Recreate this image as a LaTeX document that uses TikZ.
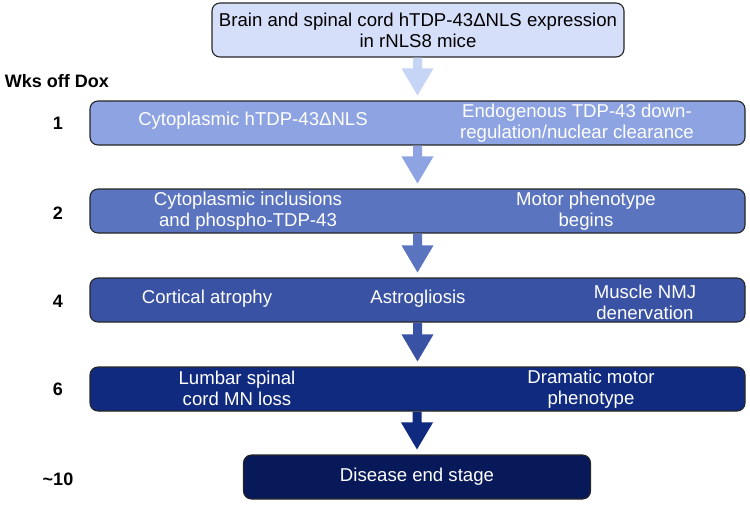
\documentclass[tikz,border=0pt]{standalone}
\usepackage{fontspec}
\setmainfont{Liberation Sans}
\usetikzlibrary{calc}
\definecolor{ctop}{RGB}{214,223,250}
\definecolor{carrA}{RGB}{198,212,246}
\definecolor{cone}{RGB}{141,163,226}
\definecolor{ctwo}{RGB}{90,116,192}
\definecolor{cthree}{RGB}{57,82,163}
\definecolor{cfour}{RGB}{16,42,128}
\definecolor{cfive}{RGB}{8,25,90}
\newcommand\flowarr[3]{%
  \fill[#3] ($(#1)+(-4.5,0)$) -- ($(#2)+(-4.5,32)$) -- ($(#2)+(-16,32)$) --
    ($(#2)+(0,5)$) -- ($(#2)+(16,32)$) -- ($(#2)+(4.5,32)$) -- ($(#1)+(4.5,0)$) -- cycle;}
\begin{document}
\begin{tikzpicture}[x=1pt,y=1pt,
  every node/.style={font=\fontsize{18.6}{21}\selectfont, inner sep=0pt},
  stagebox/.style={draw=black!85, line width=1.1pt, rounded corners=8pt,
    minimum height=44pt, minimum width=655pt},
  wtext/.style={text=white, align=center},
  weeklbl/.style={font=\fontsize{18}{21}\selectfont\bfseries}]
\useasboundingbox (0,0) rectangle (750,-504);
% boxes
\node[draw=black!85, line width=1.1pt, rounded corners=8pt, fill=ctop,
      minimum width=412pt, minimum height=54pt, align=center] (top) at (418,-30)
      {Brain and spinal cord hTDP-43ΔNLS expression\\in rNLS8 mice};
\node[stagebox, fill=cone] (b1) at (417.5,-123) {};
\node[stagebox, fill=ctwo] (b2) at (417.5,-211) {};
\node[stagebox, fill=cthree] (b3) at (417.5,-300) {};
\node[stagebox, fill=cfour] (b4) at (417.5,-389) {};
\node[stagebox, fill=cfive, minimum width=347pt] (b5) at (417,-477) {};
% texts
\node[wtext] (t11) at (253,-121) {Cytoplasmic hTDP-43ΔNLS};
\node[wtext] (t12) at (577,-123) {Endogenous TDP-43 down-\\regulation/nuclear clearance};
\node[wtext] (t21) at (248,-211) {Cytoplasmic inclusions\\and phospho-TDP-43};
\node[wtext] (t22) at (586,-211) {Motor phenotype\\begins};
\node[wtext] (t31) at (207,-299) {Cortical atrophy};
\node[wtext] (t32) at (418,-299) {Astrogliosis};
\node[wtext] (t33) at (645,-302) {Muscle NMJ\\denervation};
\node[wtext] (t41) at (237,-388) {Lumbar spinal\\cord MN loss};
\node[wtext] (t42) at (591,-389) {Dramatic motor\\phenotype};
\node[wtext] (t51) at (417,-477) {Disease end stage};
% week labels
\node[weeklbl] (wk) at (57,-81) {Wks off Dox};
\node[weeklbl] (w1) at (58,-123) {1};
\node[weeklbl] (w2) at (58,-213) {2};
\node[weeklbl] (w4) at (58,-301) {4};
\node[weeklbl] (w6) at (58,-389) {6};
\node[weeklbl] (w10) at (58,-479) {\textasciitilde 10};
% arrows
\flowarr{top.south -| b1.north}{b1.north}{carrA}
\flowarr{b1.south}{b2.north}{cone}
\flowarr{b2.south}{b3.north}{ctwo}
\flowarr{b3.south}{b4.north}{cthree}
\flowarr{b4.south -| b5.north}{b5.north}{cfour}
\end{tikzpicture}
\end{document}
